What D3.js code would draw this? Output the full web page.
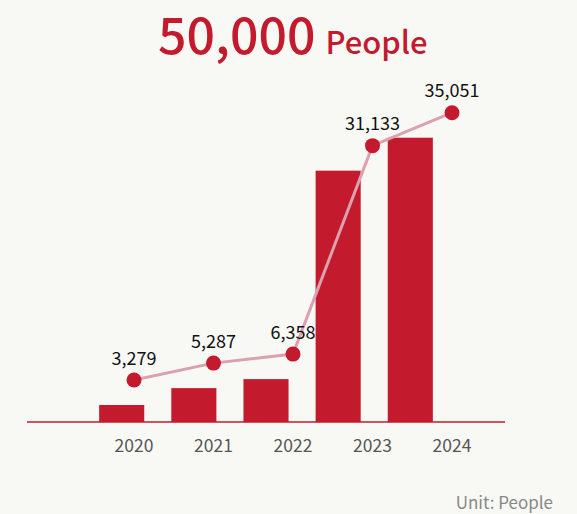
<!DOCTYPE html>
<html>
<head>
<meta charset="utf-8">
<script src="https://cdn.jsdelivr.net/npm/d3@7"></script>
<style>
  html, body { margin: 0; padding: 0; background: #f8f8f5; }
  svg { display: block; }
  text { font-family: "Noto Sans CJK KR", "Noto Sans", sans-serif; }
</style>
</head>
<body>
<svg id="chart" width="577" height="514"></svg>
<script>
// Yearly participant counts
const years = ["2020", "2021", "2022", "2023", "2024"];
const people = [3279, 5287, 6358, 31133, 35051];
const titleNumber = "50,000";
const titleUnit = "People";
const unitNote = "Unit: People";

const W = 577, H = 514;
const red = "#c41a2e";
const svg = d3.select("#chart");

svg.append("rect").attr("width", W).attr("height", H).attr("fill", "#f8f8f5");

const baseY = 422;

// Bars sit on a band scale; the trend line and year labels on a point scale
const xBar = d3.scaleBand().domain(years).range([27, 505]).paddingInner(0.375).paddingOuter(1.0);
const xPt = d3.scalePoint().domain(years).range([134, 452]);
const y = d3.scaleLinear().domain([0, 35051]).range([432.6, 137.7]);
const lineLift = 25;

// Title
const title = svg.append("text").attr("x", 158).attr("y", 54).attr("fill", red).attr("font-weight", 500);
title.append("tspan").attr("font-size", 50).text(titleNumber);
title.append("tspan").attr("font-size", 31).attr("dx", 10).text(titleUnit);

// Bars
svg.append("g").selectAll("rect").data(years).join("rect")
  .attr("x", d => xBar(d))
  .attr("width", xBar.bandwidth())
  .attr("y", (d, i) => y(people[i]))
  .attr("height", (d, i) => baseY - y(people[i]))
  .attr("fill", red);

// Baseline
svg.append("line")
  .attr("x1", 27).attr("x2", 505)
  .attr("y1", baseY).attr("y2", baseY)
  .attr("stroke", red).attr("stroke-width", 1.6);

// Year labels
svg.append("g").selectAll("text").data(years).join("text")
  .attr("x", d => xPt(d))
  .attr("y", 452)
  .attr("text-anchor", "middle")
  .attr("font-size", 17.5)
  .attr("fill", "#555")
  .text(d => d);

// Trend line
const pts = years.map((d, i) => [xPt(d), y(people[i]) - lineLift]);
svg.append("path")
  .attr("d", d3.line()(pts))
  .attr("fill", "none")
  .attr("stroke", "#dba1b0")
  .attr("stroke-width", 3);

svg.append("g").selectAll("circle").data(pts).join("circle")
  .attr("cx", d => d[0]).attr("cy", d => d[1])
  .attr("r", 7.5)
  .attr("fill", red);

// Value labels
const fmt = d3.format(",");
svg.append("g").selectAll("text").data(years).join("text")
  .attr("x", d => xPt(d))
  .attr("y", (d, i) => y(people[i]) - lineLift - 15.5)
  .attr("text-anchor", "middle")
  .attr("font-size", 18)
  .attr("fill", "#111")
  .text((d, i) => fmt(people[i]));

// Unit note
svg.append("text")
  .attr("x", 553).attr("y", 509)
  .attr("text-anchor", "end")
  .attr("font-size", 17)
  .attr("fill", "#888")
  .text(unitNote);
</script>
</body>
</html>
